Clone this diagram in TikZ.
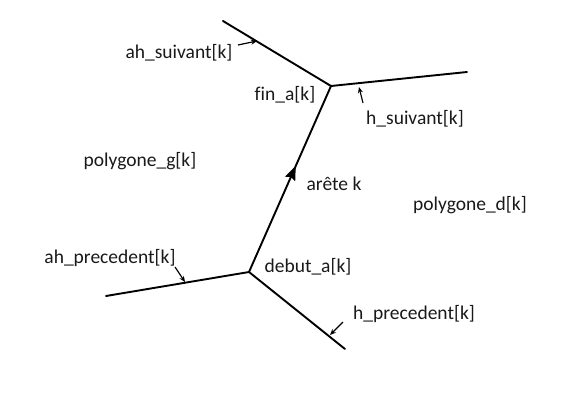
\documentclass[tikz,border=0pt]{standalone}
\usepackage{fontspec}
\setmainfont[Ligatures=CommonOff]{Carlito}
\usetikzlibrary{arrows.meta, decorations.markings}

\begin{document}
\begin{tikzpicture}[x=1pt, y=-1pt,
    lbl/.style={font=\fontsize{19.5}{23}\selectfont, text=black!90, inner sep=0pt},
    wall/.style={line width=1.9pt, line cap=round},
    ptr/.style={-{Stealth[length=6pt, width=5pt]}, line width=1.2pt}]
    % Units: 1 = 1 px of the 576x410 sketch, y grows downwards.
    \useasboundingbox (0,0) rectangle (576,410);

    % Ends of edge k and free ends of the neighbouring edges
    \coordinate (fin) at (331,86);
    \coordinate (deb) at (249,272);
    \coordinate (ulend) at (223,21);
    \coordinate (urend) at (467,72);
    \coordinate (llend) at (106,296);
    \coordinate (lrend) at (345,349);

    \draw[wall] (ulend) -- (fin) -- (urend);
    \draw[wall] (llend) -- (deb) -- (lrend);
    \draw[wall, postaction={decorate}, decoration={markings,
        mark=at position 0.57 with {\arrow{Stealth[length=14pt, width=11pt, inset=2pt]}}}] (deb) -- (fin);

    % Labels
    \node[lbl] (ahsuiv) at (179,53) {ah\_suivant[k]};
    \node[lbl] (fina) at (285,95) {fin\_a[k]};
    \node[lbl] (hsuiv) at (415,119) {h\_suivant[k]};
    \node[lbl] (polyg) at (140,161) {polygone\_g[k]};
    \node[lbl] (arete) at (334,184) {arête k};
    \node[lbl] (polyd) at (470,205) {polygone\_d[k]};
    \node[lbl] (ahprec) at (110,258) {ah\_precedent[k]};
    \node[lbl] (debuta) at (308,267) {debut\_a[k]};
    \node[lbl] (hprec) at (414,314) {h\_precedent[k]};

    % Pointers from the labels to the edges
    \coordinate (ahsuivT) at (238,45);  \coordinate (ahsuivP) at (257,41);
    \coordinate (hsuivT) at (363,103);  \coordinate (hsuivP) at (359,87);
    \coordinate (ahprecT) at (175,267); \coordinate (ahprecP) at (185,282);
    \coordinate (hprecT) at (343,322);  \coordinate (hprecP) at (330,335);
    \draw[ptr] (ahsuivT) -- (ahsuivP);
    \draw[ptr] (hsuivT) -- (hsuivP);
    \draw[ptr] (ahprecT) -- (ahprecP);
    \draw[ptr] (hprecT) -- (hprecP);
\end{tikzpicture}
\end{document}
